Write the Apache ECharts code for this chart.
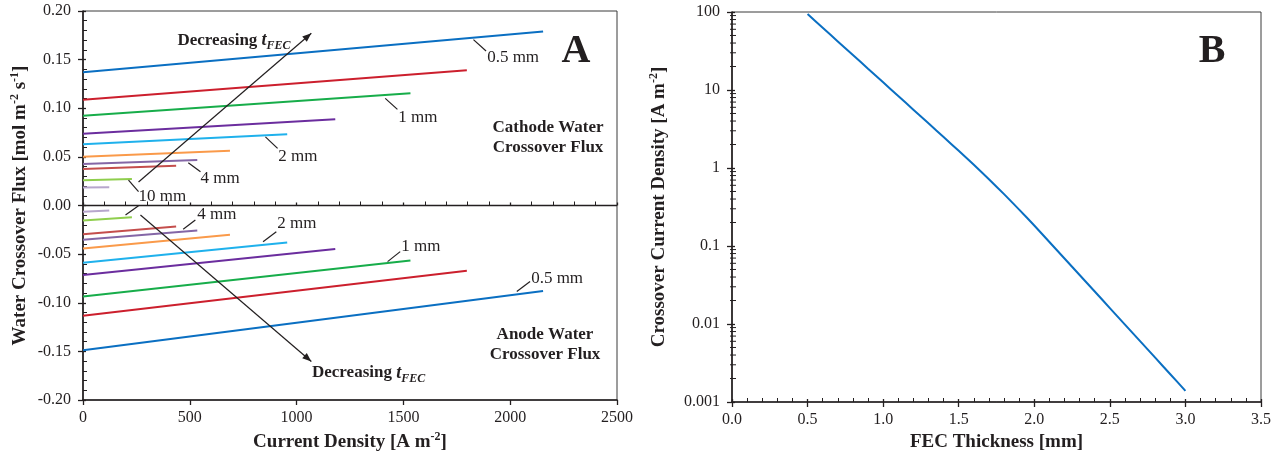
<!DOCTYPE html>
<html>
<head>
<meta charset="utf-8">
<script src="https://cdn.jsdelivr.net/npm/echarts@6/dist/echarts.min.js"></script>
<style>
  html, body { margin: 0; padding: 0; background: #fff; }
  #chart { width: 1282px; height: 458px; }
</style>
</head>
<body>
<div id="chart"></div>
<script>
// ---- Panel A: water crossover flux vs current density, one line per FEC thickness ----
const thicknessNames = ['0.5 mm', '0.75 mm', '1 mm', '1.5 mm', '2 mm', '3 mm', '4 mm', '5 mm', '10 mm', '20 mm'];
const lineColors = ['#0a6fc2', '#cc1f2d', '#17ad4a', '#6b2d9e', '#1fb1ec', '#fa9a4a', '#8466a6', '#c44e4c', '#8fce4d', '#b7a6cc'];
// current density where each thickness curve ends [A m-2]
const currentEnd = [2154, 1797, 1533, 1181, 956, 688, 535, 436, 229, 123];
// cathode flux at 0 and at end current density [mol m-2 s-1]
const cathodeStart = [0.137, 0.1087, 0.0922, 0.0738, 0.0629, 0.0502, 0.0427, 0.0376, 0.0260, 0.0184];
const cathodeEnd   = [0.179, 0.139, 0.1155, 0.0888, 0.0732, 0.0563, 0.0468, 0.0410, 0.0273, 0.0188];
// anode flux at 0 and at end current density [mol m-2 s-1]
const anodeStart = [-0.1489, -0.1133, -0.0935, -0.0715, -0.0589, -0.0442, -0.0353, -0.0295, -0.0155, -0.0063];
const anodeEnd   = [-0.0879, -0.0671, -0.0565, -0.0448, -0.0381, -0.0302, -0.0257, -0.0216, -0.0120, -0.0052];

// ---- Panel B: crossover current density vs FEC thickness ----
const fecThickness = [0.5, 0.6, 0.7, 0.8, 0.9, 1.0, 1.1, 1.2, 1.3, 1.4, 1.5, 1.6, 1.7, 1.8, 1.9,
                      2.0, 2.1, 2.2, 2.3, 2.4, 2.5, 2.6, 2.7, 2.8, 2.9, 3.0];
const crossoverCurrent = [94, 62.8, 42.0, 28.1, 18.75, 12.53, 8.37, 5.60, 3.74, 2.50, 1.66, 1.10, 0.718,
                          0.462, 0.293, 0.183, 0.1127, 0.0692, 0.0425, 0.0261, 0.0160, 0.00982,
                          0.00603, 0.00370, 0.00227, 0.00139];

// axis tick labels
const logTicks = ['0.001', '0.01', '0.1', '1', '10', '100'];

const FONT = 'Liberation Serif';
const INK = '#231f20';

// annotation geometry in panel A data space: [x1, y1, x2, y2, arrowhead?]
const annotLines = [
  [260, 0.0241, 1069, 0.1771, 1],
  [269, -0.0098, 1069, -0.1604, 1],
  [1828, 0.1706, 1887, 0.1589, 0],
  [1415, 0.1101, 1472, 0.0988, 0],
  [854, 0.0706, 911, 0.0587, 0],
  [493, 0.0439, 550, 0.0347, 0],
  [213, 0.0262, 260, 0.0142, 0],
  [199, -0.0098, 260, -0.0002, 0],
  [469, -0.0244, 526, -0.0149, 0],
  [843, -0.0372, 905, -0.0269, 0],
  [1426, -0.0577, 1485, -0.0474, 0],
  [2031, -0.0885, 2093, -0.0782, 0]
];
// thickness callouts: [text, x, y] (left-aligned, vertically centred)
const callouts = [
  ['0.5 mm', 1892, 0.1525], ['1 mm', 1476, 0.0909], ['2 mm', 914, 0.0508],
  ['4 mm', 550, 0.0282], ['10 mm', 260, 0.0092],
  ['4 mm', 535, -0.0098], ['2 mm', 909, -0.0190], ['1 mm', 1490, -0.0423],
  ['0.5 mm', 2098, -0.0747]
];

// minor ticks for the log axis (2..9 within each decade)
const logMinor = [];
for (let e = -3; e <= 1; e++) {
  for (let m = 2; m <= 9; m++) logMinor.push([0, m * Math.pow(10, e)]);
}

const chart = echarts.init(document.getElementById('chart'), null, { renderer: 'canvas' });

const nameStyle = {
  fontFamily: FONT, fontWeight: 'bold', fontSize: 19, color: INK,
  rich: {
    n: { fontFamily: FONT, fontWeight: 'bold', fontSize: 19, color: INK, lineHeight: 22 },
    sup: { fontFamily: FONT, fontWeight: 'bold', fontSize: 12, color: INK, verticalAlign: 'top', lineHeight: 22 }
  }
};
const labelStyle = { fontFamily: FONT, fontSize: 16, color: INK };
const axisLine = { show: true, onZero: false, lineStyle: { color: INK, width: 1.6 } };

const series = [];
thicknessNames.forEach((name, i) => {
  series.push({
    name: name + ' cathode', type: 'line', xAxisIndex: 0, yAxisIndex: 0,
    data: [[0, cathodeStart[i]], [currentEnd[i], cathodeEnd[i]]],
    showSymbol: false, lineStyle: { color: lineColors[i], width: 2 }, silent: true, z: 3
  });
  series.push({
    name: name + ' anode', type: 'line', xAxisIndex: 0, yAxisIndex: 0,
    data: [[0, anodeStart[i]], [currentEnd[i], anodeEnd[i]]],
    showSymbol: false, lineStyle: { color: lineColors[i], width: 2 }, silent: true, z: 3
  });
});
// zero line separating cathode and anode flux
series[0].markLine = {
  silent: true, symbol: 'none', label: { show: false },
  lineStyle: { color: INK, width: 1.3, type: 'solid' },
  data: [{ yAxis: 0 }]
};

// leader lines and arrows
series.push({
  type: 'custom', xAxisIndex: 0, yAxisIndex: 0, silent: true, z: 4,
  data: annotLines,
  renderItem: (params, api) => {
    const a = api.coord([api.value(0), api.value(1)]);
    const b = api.coord([api.value(2), api.value(3)]);
    const children = [{
      type: 'line', shape: { x1: a[0], y1: a[1], x2: b[0], y2: b[1] },
      style: { stroke: INK, lineWidth: 1.2 }
    }];
    if (api.value(4)) {
      const dx = b[0] - a[0], dy = b[1] - a[1];
      const len = Math.hypot(dx, dy), ux = dx / len, uy = dy / len;
      const L = 9, W = 3.5;
      children.push({
        type: 'polygon',
        shape: { points: [[b[0], b[1]],
          [b[0] - ux * L - uy * W, b[1] - uy * L + ux * W],
          [b[0] - ux * L + uy * W, b[1] - uy * L - ux * W]] },
        style: { fill: INK }
      });
    }
    return { type: 'group', children };
  }
});

// Panel B curve
series.push({
  name: 'crossover current', type: 'line', xAxisIndex: 2, yAxisIndex: 2,
  data: fecThickness.map((t, i) => [t, crossoverCurrent[i]]),
  showSymbol: false, smooth: 0.2, lineStyle: { color: '#0a6fc2', width: 2 }, silent: true, z: 3
});
// log-axis minor ticks
series.push({
  type: 'custom', xAxisIndex: 2, yAxisIndex: 2, silent: true, z: 5,
  data: logMinor, clip: false,
  renderItem: (params, api) => {
    const p = api.coord([0, api.value(1)]);
    return { type: 'line', shape: { x1: p[0] - 2, y1: p[1], x2: p[0] + 4, y2: p[1] },
      style: { stroke: INK, lineWidth: 1 } };
  }
});

const option = {
  animation: false,
  backgroundColor: '#fff',
  grid: [
    { left: 83, top: 11, width: 534, height: 389, show: true, borderColor: '#3a3a3a', borderWidth: 1, containLabel: false },
    { left: 732, top: 12, width: 529, height: 390, show: true, borderColor: '#3a3a3a', borderWidth: 1, containLabel: false }
  ],
  xAxis: [
    {
      gridIndex: 0, type: 'value', min: 0, max: 2500, interval: 500, position: 'bottom',
      name: '{n|Current Density [A m}{sup|-2}{n|]}', nameLocation: 'middle', nameGap: 29, nameTextStyle: nameStyle,
      axisLine, axisTick: { show: true, length: 5, lineStyle: { color: INK, width: 1.3 } },
      axisLabel: Object.assign({ margin: 10, formatter: v => String(v) }, labelStyle), splitLine: { show: false }
    },
    {
      gridIndex: 0, type: 'value', min: 0, max: 2500, interval: 500, position: 'bottom',
      axisLine: { show: false }, axisLabel: { show: false }, splitLine: { show: false },
      axisTick: { show: true, inside: true, length: 3, lineStyle: { color: INK, width: 1.3 } },
      minorTick: { show: true, splitNumber: 5, length: 4, lineStyle: { color: INK, width: 1 } }
    },
    {
      gridIndex: 1, type: 'value', min: 0, max: 3.5, interval: 0.5, position: 'bottom',
      name: 'FEC Thickness [mm]', nameLocation: 'middle', nameGap: 29, nameTextStyle: nameStyle,
      axisLine, axisTick: { show: true, length: 5, lineStyle: { color: INK, width: 1.3 } },
      axisLabel: Object.assign({ margin: 10, formatter: v => v.toFixed(1) }, labelStyle), splitLine: { show: false }
    },
    {
      gridIndex: 1, type: 'value', min: 0, max: 3.5, interval: 0.5, position: 'bottom',
      axisLine: { show: false }, axisLabel: { show: false }, splitLine: { show: false },
      axisTick: { show: true, inside: true, length: 3, lineStyle: { color: INK, width: 1.3 } },
      minorTick: { show: true, splitNumber: 5, length: 4, lineStyle: { color: INK, width: 1 } }
    }
  ],
  yAxis: [
    {
      gridIndex: 0, type: 'value', min: -0.2, max: 0.2, interval: 0.05, position: 'left',
      name: '{n|Water Crossover Flux [mol m}{sup|-2}{n| s}{sup|-1}{n|]}', nameLocation: 'middle', nameGap: 52, nameTextStyle: nameStyle,
      axisLine, axisTick: { show: true, length: 5, lineStyle: { color: INK, width: 1.3 } },
      axisLabel: Object.assign({ margin: 12, formatter: v => v.toFixed(2) }, labelStyle), splitLine: { show: false }
    },
    {
      gridIndex: 0, type: 'value', min: -0.2, max: 0.2, interval: 0.05, position: 'left',
      axisLine: { show: false }, axisLabel: { show: false }, splitLine: { show: false },
      axisTick: { show: true, inside: true, length: 3, lineStyle: { color: INK, width: 1.3 } },
      minorTick: { show: true, splitNumber: 5, length: 4, lineStyle: { color: INK, width: 1 } }
    },
    {
      gridIndex: 1, type: 'log', logBase: 10, min: 0.001, max: 100, position: 'left',
      name: '{n|Crossover Current Density [A m}{sup|-2}{n|]}', nameLocation: 'middle', nameGap: 62, nameTextStyle: nameStyle,
      axisLine, axisTick: { show: true, length: 5, lineStyle: { color: INK, width: 1.3 } },
      axisLabel: Object.assign({ margin: 12, formatter: v => logTicks[Math.round(Math.log10(v)) + 3] }, labelStyle),
      splitLine: { show: false }
    },
    {
      gridIndex: 1, type: 'log', logBase: 10, min: 0.001, max: 100, position: 'left',
      axisLine: { show: false }, axisLabel: { show: false }, splitLine: { show: false },
      axisTick: { show: true, inside: true, length: 3, lineStyle: { color: INK, width: 1.3 } }
    }
  ],
  series
};

chart.setOption(option);

// text annotations placed through the axes' coordinate conversion
function px(gridIdx, pt) {
  return chart.convertToPixel(gridIdx === 0 ? { xAxisIndex: 0, yAxisIndex: 0 } : { xAxisIndex: 2, yAxisIndex: 2 }, pt);
}
const graphics = [];
callouts.forEach(([t, x, y]) => {
  const p = px(0, [x, y]);
  graphics.push({ type: 'text', x: p[0], y: p[1], silent: true,
    style: { text: t, font: '17px "' + FONT + '"', fill: INK, align: 'left', verticalAlign: 'middle' } });
});
const decRich = {
  b: { fontFamily: FONT, fontWeight: 'bold', fontSize: 17, fill: INK, lineHeight: 24 },
  t: { fontFamily: FONT, fontWeight: 'bold', fontStyle: 'italic', fontSize: 18, fill: INK, lineHeight: 24 },
  s: { fontFamily: FONT, fontWeight: 'bold', fontStyle: 'italic', fontSize: 12, fill: INK, verticalAlign: 'bottom', lineHeight: 24 }
};
[[442, 0.1698], [1072, -0.1723]].forEach(([x, y]) => {
  const p = px(0, [x, y]);
  graphics.push({ type: 'text', x: p[0], y: p[1], silent: true,
    style: { text: '{b|Decreasing }{t|t}{s|FEC}', rich: decRich, align: 'left', verticalAlign: 'middle' } });
});
[['Cathode Water\nCrossover Flux', 2177, 0.0693], ['Anode Water\nCrossover Flux', 2163, -0.1432]].forEach(([t, x, y]) => {
  const p = px(0, [x, y]);
  graphics.push({ type: 'text', x: p[0], y: p[1], silent: true,
    style: { text: t, font: 'bold 17px "' + FONT + '"', fill: INK, align: 'center', verticalAlign: 'middle', lineHeight: 20 } });
});
const pa = px(0, [2308, 0.1585]);
graphics.push({ type: 'text', x: pa[0], y: pa[1], silent: true,
  style: { text: 'A', font: 'bold 40px "' + FONT + '"', fill: INK, align: 'center', verticalAlign: 'middle' } });
const pb = px(1, [3.177, 30.7]);
graphics.push({ type: 'text', x: pb[0], y: pb[1], silent: true,
  style: { text: 'B', font: 'bold 40px "' + FONT + '"', fill: INK, align: 'center', verticalAlign: 'middle' } });

chart.setOption({ graphic: graphics });
</script>
</body>
</html>
